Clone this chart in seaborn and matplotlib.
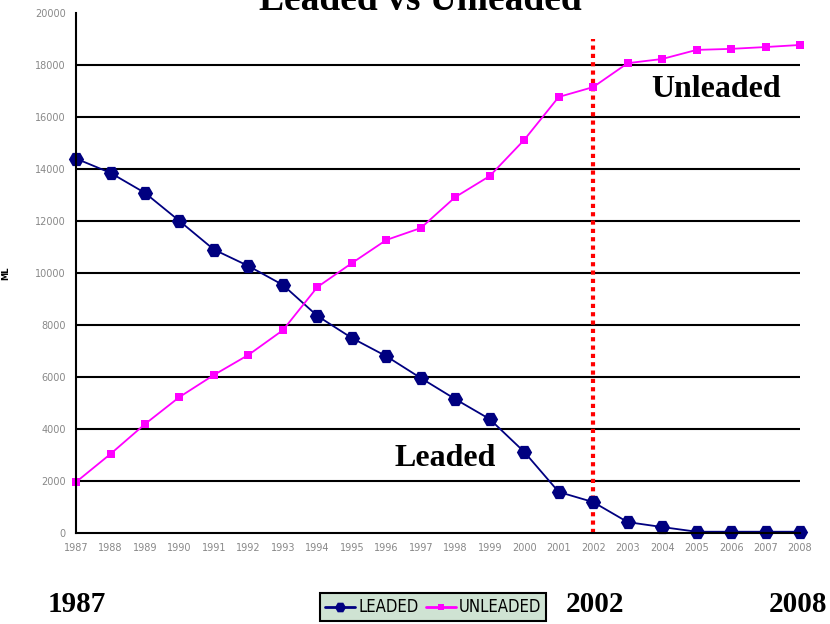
import numpy as np
import pandas as pd
import matplotlib
matplotlib.use("Agg")
import matplotlib.pyplot as plt
import seaborn as sns

years = list(range(1987, 2009))
leaded = [14400, 13850, 13080, 12000, 10900, 10270, 9540, 8350, 7500, 6800, 5960,
          5150, 4380, 3120, 1580, 1190, 420, 230, 50, 50, 50, 50]
unleaded = [1960, 3040, 4190, 5230, 6080, 6850, 7800, 9460, 10380, 11270, 11730,
            12920, 13730, 15120, 16770, 17150, 18070, 18230, 18580, 18620, 18690, 18770]
yticks = list(range(0, 20001, 2000))
marker_year = 2002

sns.set_style("white")
plt.rcParams["text.color"] = "black"
plt.rcParams["axes.labelcolor"] = "black"
serif = ["Liberation Serif", "DejaVu Serif"]

df = pd.DataFrame({"year": years * 2,
                   "ML": leaded + unleaded,
                   "type": ["LEADED"] * len(years) + ["UNLEADED"] * len(years)})

fig = plt.figure(figsize=(8.3, 6.24), dpi=100)
ax = fig.add_axes([0.0916, 0.1458, 0.8723, 0.8334])

sns.lineplot(data=df, x="year", y="ML", hue="type", style="type",
             palette={"LEADED": "#000080", "UNLEADED": "#ff00ff"},
             markers={"LEADED": "H", "UNLEADED": "s"},
             dashes=False, linewidth=1.3, markeredgewidth=0, ax=ax, clip_on=False)
# marker sizes differ per series
for line, ms in zip(ax.get_lines()[:2], [11, 6]):
    line.set_markersize(ms)

ax.set_xlim(1987, 2008)
ax.set_ylim(0, 20000)
ax.set_xticks(years)
ax.set_xticklabels([str(y) for y in years], fontsize=7, color="#888888")
ax.set_yticks(yticks)
ax.set_yticklabels([str(v) for v in yticks], fontsize=7, color="#888888")
ax.tick_params(axis="both", direction="out", length=4, width=1.3, color="black")
for v in yticks[1:-1]:
    ax.axhline(v, color="black", lw=1.5, zorder=0)
for s in ["top", "right"]:
    ax.spines[s].set_visible(False)
for s in ["left", "bottom"]:
    ax.spines[s].set_color("black")
    ax.spines[s].set_linewidth(1.5)

ax.set_xlabel("")
ax.set_ylabel("ML", fontsize=6, fontweight="bold", labelpad=18)

ax.plot([marker_year, marker_year], [0, 19000], color="red", lw=3, ls=(0, (1, 1)), zorder=1)

ax.text(2005.55, 17050, "Unleaded", fontsize=23, fontweight="bold", family=serif,
        ha="center", va="center")
ax.text(1997.7, 2880, "Leaded", fontsize=23, fontweight="bold", family=serif,
        ha="center", va="center")

fig.text(0.506, 0.984, "Leaded vs Unleaded", fontsize=27, fontweight="bold",
         family=serif, ha="center", va="baseline")
for x, label in [(0.092, "1987"), (0.717, "2002"), (0.961, "2008")]:
    fig.text(x, 0.032, label, fontsize=21, fontweight="bold", family=serif,
             ha="center", va="center")

handles, labels = ax.get_legend_handles_labels()
for h, ms in zip(handles, [8, 5]):
    h.set_markersize(ms)
    h.set_linewidth(2)
leg = ax.legend(handles, labels, loc="upper left", bbox_to_anchor=(312 / 830, 39 / 624),
                bbox_transform=fig.transFigure, ncol=2, frameon=True, fancybox=False,
                facecolor="#cfe3d3", edgecolor="black", framealpha=1,
                prop={"family": "DejaVu Sans", "size": 12, "stretch": "condensed"},
                handlelength=1.8, handletextpad=0.2, columnspacing=0.4, borderpad=0.3)
leg.get_frame().set_linewidth(1.5)

fig.savefig("out.png", dpi=100)
